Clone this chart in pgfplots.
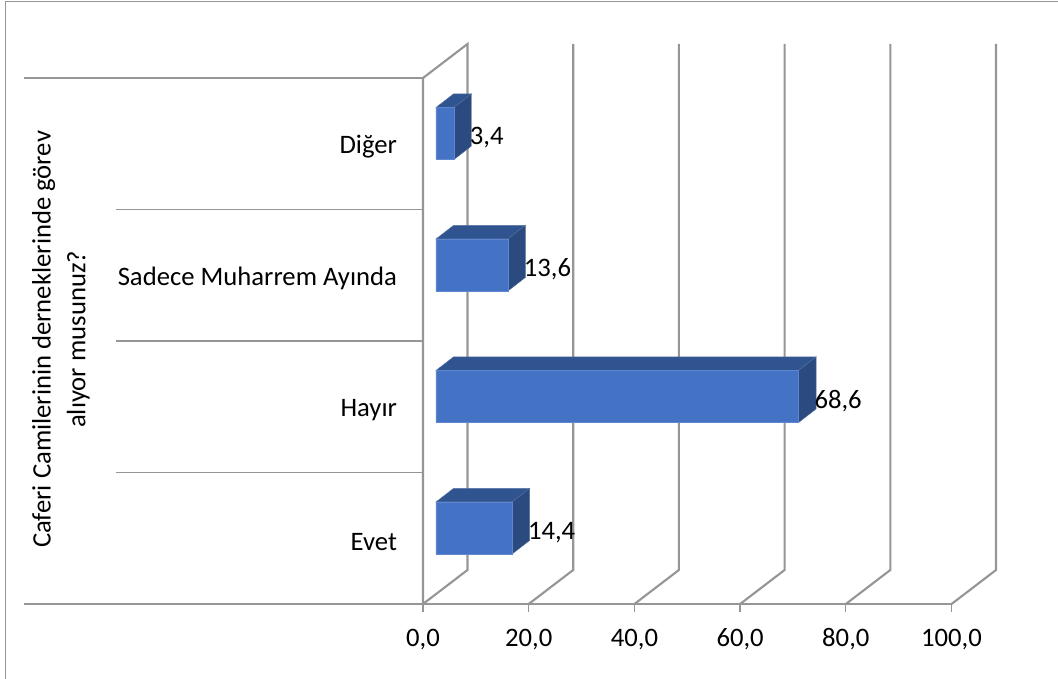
\documentclass[border=0pt]{standalone}
\usepackage{pgfplots}
\pgfplotsset{compat=1.18}
\usepackage{fontspec}
\setmainfont{Carlito}
\definecolor{wall}{HTML}{969696}
\definecolor{fface}{HTML}{4472C4}
\definecolor{tface}{HTML}{30548F}
\definecolor{sface}{HTML}{2A4A80}
\pgfkeys{/pgf/number format/.cd,fixed,fixed zerofill,precision=1,use comma,assume math mode=true}
\begin{document}
\begin{tikzpicture}
\path[use as bounding box] (-317.25pt,-56.25pt) rectangle (476.25pt,453pt);
\draw[wall,line width=1.4pt] (-313.1pt,-56.25pt) -- (-313.1pt,451.9pt) -- (476.25pt,451.9pt);
\begin{axis}[
  at={(0pt,0pt)},anchor=south west,
  scale only axis,width=396.4pt,height=394.5pt,
  xmin=0,xmax=100,ymin=-0.5,ymax=3.5,clip=false,
  axis line style={draw=none},
  xtick={0,20,40,60,80,100},
  ytick={0,1,2,3},
  yticklabels={Evet,Hayır,Sadece Muharrem Ayında,Diğer},
  xtick pos=lower,
  tick align=outside,
  tickwidth=6pt,
  x tick style={wall,line width=1pt},
  y tick style={draw=none},
  font=\fontsize{20}{26}\selectfont,
  yticklabel style={xshift=-10pt,yshift=-2.5pt},
  xticklabel style={anchor=base,yshift=-25.5pt},
  ylabel={Caferi Camilerinin derneklerinde görev\\alıyor musunuz?},
  every axis y label/.style={at={(rel axis cs:-0.685,0.503)},rotate=90,anchor=center,align=center},
  bar3d/.style={xshift=9.75pt,yshift=7.7pt},
]
% back wall verticals and floor diagonals
\pgfplotsset{grid3d/.style={wall,line width=1.6pt,forget plot}}
\addplot[grid3d] coordinates {(0,-0.5) (8.42,-0.2414) (8.42,3.7586) (0,3.5) (0,-0.5)};
\addplot[grid3d] coordinates {(20,-0.5) (28.42,-0.2414) (28.42,3.7586)};
\addplot[grid3d] coordinates {(40,-0.5) (48.42,-0.2414) (48.42,3.7586)};
\addplot[grid3d] coordinates {(60,-0.5) (68.42,-0.2414) (68.42,3.7586)};
\addplot[grid3d] coordinates {(80,-0.5) (88.42,-0.2414) (88.42,3.7586)};
\addplot[grid3d] coordinates {(100,-0.5) (108.42,-0.2414) (108.42,3.7586)};
% floor front edge and category separators
\addplot[grid3d,line width=1.4pt] coordinates {(-75.5,-0.5) (100,-0.5)};
\addplot[grid3d,line width=1.2pt] coordinates {(-58.1,0.5) (0,0.5)};
\addplot[grid3d,line width=1.2pt] coordinates {(-58.1,1.5) (0,1.5)};
\addplot[grid3d,line width=1.2pt] coordinates {(-58.1,2.5) (0,2.5)};
\addplot[grid3d,line width=1.2pt] coordinates {(-75.5,3.5) (0,3.5)};
% top faces
\pgfplotsset{topf/.style={bar3d,fill=tface,draw=tface!80!white,line width=0.3pt,forget plot}}
\pgfplotsset{sidef/.style={bar3d,fill=sface,draw=sface!80!white,line width=0.3pt,forget plot}}
\addplot[topf] coordinates {(0,0.198) (14.4,0.198) (17.71,0.301) (3.31,0.301)} --cycle;
\addplot[sidef] coordinates {(14.4,-0.198) (14.4,0.198) (17.71,0.301) (17.71,-0.095)} --cycle;
\addplot[topf] coordinates {(0,1.198) (68.6,1.198) (71.91,1.301) (3.31,1.301)} --cycle;
\addplot[sidef] coordinates {(68.6,0.802) (68.6,1.198) (71.91,1.301) (71.91,0.905)} --cycle;
\addplot[topf] coordinates {(0,2.198) (13.6,2.198) (16.91,2.301) (3.31,2.301)} --cycle;
\addplot[sidef] coordinates {(13.6,1.802) (13.6,2.198) (16.91,2.301) (16.91,1.905)} --cycle;
\addplot[topf] coordinates {(0,3.198) (3.4,3.198) (6.71,3.301) (3.31,3.301)} --cycle;
\addplot[sidef] coordinates {(3.4,2.802) (3.4,3.198) (6.71,3.301) (6.71,2.905)} --cycle;
% front faces with data labels
\addplot[bar3d,xbar,bar width=39pt,bar shift=0pt,fill=fface,draw=fface!85!white,line width=0.3pt,
  nodes near coords={\pgfmathprintnumber\pgfplotspointmeta},
  nodes near coords style={anchor=west,inner sep=0pt,xshift=11.8pt,yshift=-3.2pt,text=black}]
  coordinates {(14.4,0) (68.6,1) (13.6,2) (3.4,3)};
\end{axis}
\end{tikzpicture}
\end{document}
